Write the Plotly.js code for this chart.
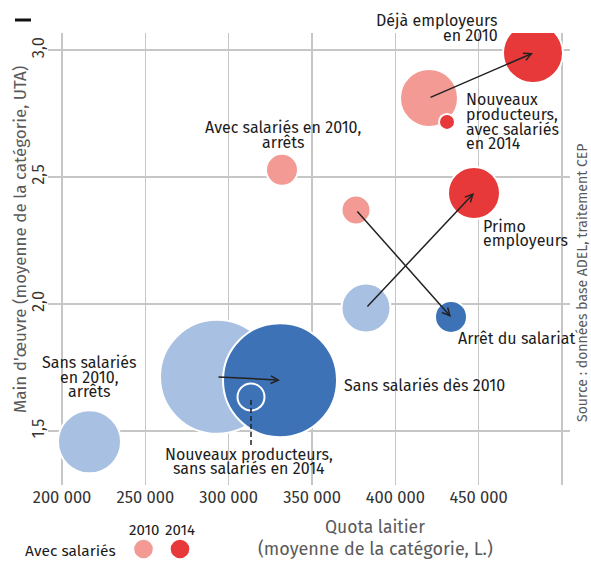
<!DOCTYPE html>
<html>
<head>
<meta charset="utf-8">
<script src="https://cdn.plot.ly/plotly-3.0.1.min.js"></script>
<style>html,body{margin:0;padding:0;background:#fff;}#chart{width:591px;height:561px;}</style>
</head>
<body>
<div id="chart"></div>
<script>
// ---- Data ----
// Each bubble: group name, year, status (avec/sans salariés), quota (L), labour (UTA), bubble value
const pointNames  = ["Déjà employeurs", "Avec salariés en 2010, arrêts", "Arrêt du salariat",
                     "Primo employeurs", "Sans salariés dès 2010", "Sans salariés en 2010, arrêts",
                     "Déjà employeurs", "Primo employeurs", "Nouveaux producteurs avec salariés",
                     "Arrêt du salariat", "Sans salariés dès 2010", "Nouveaux producteurs sans salariés"];
const pointYear   = [2010, 2010, 2010, 2010, 2010, 2010, 2014, 2014, 2014, 2014, 2014, 2014];
const pointStatut = ["avec", "avec", "avec", "sans", "sans", "sans", "avec", "avec", "avec", "sans", "sans", "sans"];
const pointQuota  = [420200, 332000, 376400, 382400, 293000, 216500, 482600, 447200, 431000, 433400, 330800, 313400];
const pointMO     = [2.811, 2.528, 2.370, 1.984, 1.713, 1.457, 2.988, 2.437, 2.717, 1.949, 1.700, 1.634];
const pointValue  = [841, 256, 210, 600, 3249, 992, 900, 676, 64, 256, 3249, 182];

const xTicks = [200000, 250000, 300000, 350000, 400000, 450000, 500000];
const yTicks = [1.5, 2.0, 2.5, 3.0];
const legendYears = ["2010", "2014"];

// ---- Styles ----
const FONT = "Fira Sans, Open Sans, sans-serif";
const LBL = 16;
const colors = {avec: {2010: "#f39a95", 2014: "#e8393a"}, sans: {2010: "#a8c0e2", 2014: "#3d72b7"}};
const W = 591, H = 561, M = {l: 48, r: 21, t: 33, b: 76};
const pw = W - M.l - M.r, ph = H - M.t - M.b;
const px = x => (x - M.l) / pw;       // pixel -> paper x
const py = y => (H - M.b - y) / ph;   // pixel -> paper y

// ---- Traces ----
const groups = [["sans", 2010], ["avec", 2010], ["sans", 2014], ["avec", 2014]];
const traces = groups.map(([st, yr]) => {
  const idx = pointYear.map((y, i) => i).filter(i => pointYear[i] === yr && pointStatut[i] === st);
  return {
    type: "scatter", mode: "markers",
    x: idx.map(i => pointQuota[i]), y: idx.map(i => pointMO[i]),
    text: idx.map(i => pointNames[i]),
    marker: {size: idx.map(i => pointValue[i]), sizemode: "area", sizeref: 0.5,
             color: colors[st][yr], opacity: 1, line: {color: "#ffffff", width: 2}},
    hoverinfo: "text", showlegend: false
  };
});

// ---- Annotations ----
const ann = [];
pointNames.forEach((n, i) => {
  if (pointYear[i] !== 2010) return;
  const j = pointNames.findIndex((m, k) => m === n && pointYear[k] === 2014);
  if (j < 0) return;
  ann.push({x: pointQuota[j], y: pointMO[j], ax: pointQuota[i], ay: pointMO[i],
            xref: "x", yref: "y", axref: "x", ayref: "y", text: "", showarrow: true,
            arrowhead: 5, arrowsize: 1, arrowwidth: 1.5, arrowcolor: "#222"});
});

function lbl(name, year, lines, anchor, dx, dy0, step) {
  const i = pointNames.findIndex((m, k) => m === name && pointYear[k] === year);
  lines.forEach((t, k) => ann.push({
    x: pointQuota[i], y: pointMO[i], xref: "x", yref: "y", text: t, showarrow: false,
    xanchor: anchor, yanchor: "middle", xshift: dx, yshift: -(dy0 + k * step),
    font: {family: FONT, size: LBL, color: "#1b1b1b"}
  }));
}
lbl("Déjà employeurs", 2014, ["Déjà employeurs", "en 2010"], "right", -33, -33, 15);
lbl("Nouveaux producteurs avec salariés", 2014, ["Nouveaux", "producteurs,", "avec salariés", "en 2014"], "left", 17, -22, 14.6);
lbl("Avec salariés en 2010, arrêts", 2010, ["Avec salariés en 2010,", "arrêts"], "center", 1, -42, 15);
lbl("Primo employeurs", 2014, ["Primo", "employeurs"], "left", 7, 34, 14);
lbl("Arrêt du salariat", 2014, ["Arrêt du salariat"], "left", 5, 22, 14);
lbl("Sans salariés dès 2010", 2014, ["Sans salariés dès 2010"], "left", 62, 5, 14);
lbl("Sans salariés en 2010, arrêts", 2010, ["Sans salariés", "en 2010,", "arrêts"], "center", 0, -79, 14.5);
lbl("Nouveaux producteurs sans salariés", 2014, ["Nouveaux producteurs,", "sans salariés en 2014"], "center", -2, 58, 13.5);

const grey = "#5a5a5a";
ann.push({xref: "paper", yref: "paper", x: px(20), y: py(240), text: "Main d'œuvre (moyenne de la catégorie, UTA)",
          textangle: -90, showarrow: false, xanchor: "center", yanchor: "middle",
          font: {family: FONT, size: 17, color: grey}});
ann.push({xref: "paper", yref: "paper", x: px(375), y: py(527), text: "Quota laitier", showarrow: false,
          xanchor: "center", yanchor: "middle", font: {family: FONT, size: 17.5, color: grey}});
ann.push({xref: "paper", yref: "paper", x: px(375), y: py(549), text: "(moyenne de la catégorie, L.)", showarrow: false,
          xanchor: "center", yanchor: "middle", font: {family: FONT, size: 18, color: grey}});
ann.push({xref: "paper", yref: "paper", x: px(582), y: py(283), text: "Source : données base ADEL, traitement CEP",
          textangle: -90, showarrow: false, xanchor: "center", yanchor: "middle",
          font: {family: FONT, size: 14, color: grey}});
ann.push({xref: "paper", yref: "paper", x: px(143.5), y: py(530), text: legendYears[0], showarrow: false,
          xanchor: "center", yanchor: "middle", font: {family: FONT, size: 15, color: "#1b1b1b"}});
ann.push({xref: "paper", yref: "paper", x: px(180), y: py(530), text: legendYears[1], showarrow: false,
          xanchor: "center", yanchor: "middle", font: {family: FONT, size: 15, color: "#1b1b1b"}});
ann.push({xref: "paper", yref: "paper", x: px(118), y: py(551), text: "Avec salariés", showarrow: false,
          xanchor: "right", yanchor: "middle", font: {family: FONT, size: 15.5, color: "#1b1b1b"}});

// ---- Shapes ----
const iNP = pointNames.indexOf("Nouveaux producteurs sans salariés");
const shapes = [
  {type: "line", xref: "x", yref: "y", ysizemode: "pixel", yanchor: pointMO[iNP],
   x0: pointQuota[iNP], x1: pointQuota[iNP], y0: -3, y1: -48,
   line: {color: "#222", width: 1.5, dash: "5px,3px"}},
  {type: "line", xref: "paper", yref: "paper", x0: px(15), x1: px(31), y0: py(20), y1: py(20),
   line: {color: "#111", width: 3}},
  {type: "circle", xref: "paper", yref: "paper", xsizemode: "pixel", ysizemode: "pixel",
   xanchor: px(143.5), yanchor: py(549), x0: -9.3, x1: 9.3, y0: -9.3, y1: 9.3,
   fillcolor: colors.avec[2010], line: {width: 0}},
  {type: "circle", xref: "paper", yref: "paper", xsizemode: "pixel", ysizemode: "pixel",
   xanchor: px(180), yanchor: py(549), x0: -9.3, x1: 9.3, y0: -9.3, y1: 9.3,
   fillcolor: colors.avec[2014], line: {width: 0}}
];

const layout = {
  width: W, height: H, margin: M,
  paper_bgcolor: "#fff", plot_bgcolor: "#fff",
  separators: ", ",
  font: {family: FONT, size: 16, color: "#333"},
  xaxis: {range: [191600, 504800], tickvals: xTicks, tickformat: ",d", showgrid: true,
          gridcolor: "#c6c6c6", gridwidth: 1.5, zeroline: false, showline: false, ticks: "",
          tickfont: {family: FONT, size: 16.5, color: "#333"}},
  yaxis: {range: [1.287, 3.067], tickvals: yTicks, tickformat: ".1f", tickangle: -90, showgrid: true,
          gridcolor: "#c6c6c6", gridwidth: 1.5, zeroline: false, showline: false, ticks: "",
          tickfont: {family: FONT, size: 16.5, color: "#333"}},
  annotations: ann, shapes: shapes, showlegend: false
};

Plotly.newPlot("chart", traces, layout, {displayModeBar: false, staticPlot: true});
</script>
</body>
</html>
